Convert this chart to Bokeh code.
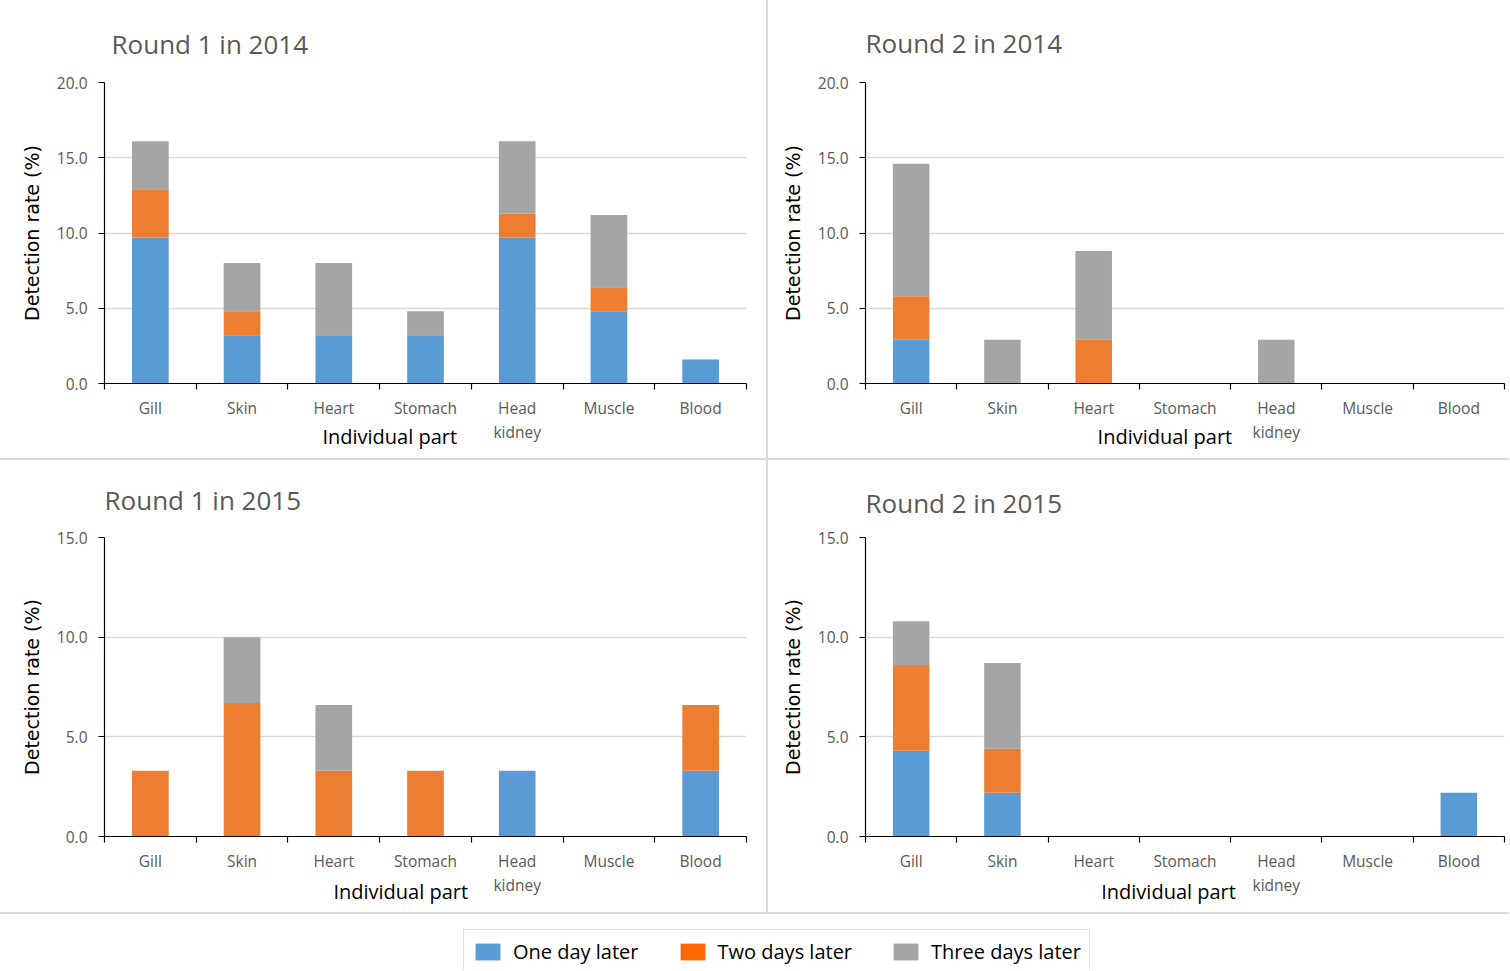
from bokeh.plotting import figure
from bokeh.models import (ColumnDataSource, Range1d, LinearAxis, FixedTicker,
                          PrintfTickFormatter, Legend, LegendItem)
from bokeh.layouts import column, row
from bokeh.embed import file_html
from bokeh.resources import INLINE

# ---------------- data ----------------
parts = ["Gill", "Skin", "Heart", "Stomach", "Head kidney", "Muscle", "Blood"]
series_names = ["One day later", "Two days later", "Three days later"]

r1_2014_one = [9.7, 3.2, 3.2, 3.2, 9.7, 4.8, 1.6]
r1_2014_two = [3.2, 1.6, 0.0, 0.0, 1.6, 1.6, 0.0]
r1_2014_three = [3.2, 3.2, 4.8, 1.6, 4.8, 4.8, 0.0]

r2_2014_one = [2.9, 0.0, 0.0, 0.0, 0.0, 0.0, 0.0]
r2_2014_two = [2.9, 0.0, 2.9, 0.0, 0.0, 0.0, 0.0]
r2_2014_three = [8.8, 2.9, 5.9, 0.0, 2.9, 0.0, 0.0]

r1_2015_one = [0.0, 0.0, 0.0, 0.0, 3.3, 0.0, 3.3]
r1_2015_two = [3.3, 6.7, 3.3, 3.3, 0.0, 0.0, 3.3]
r1_2015_three = [0.0, 3.3, 3.3, 0.0, 0.0, 0.0, 0.0]

r2_2015_one = [4.3, 2.2, 0.0, 0.0, 0.0, 0.0, 2.2]
r2_2015_two = [4.3, 2.2, 0.0, 0.0, 0.0, 0.0, 0.0]
r2_2015_three = [2.2, 4.3, 0.0, 0.0, 0.0, 0.0, 0.0]

y_ticks_2014 = [0, 5, 10, 15, 20]
y_ticks_2015 = [0, 5, 10, 15]

titles = ["Round 1 in 2014", "Round 2 in 2014", "Round 1 in 2015", "Round 2 in 2015"]
y_label = "Detection rate (%)"
x_label = "Individual part"

# ---------------- styles ----------------
bar_colors = ["#5B9BD5", "#ED7D31", "#A5A5A5"]
legend_colors = ["#5B9BD5", "#FF6600", "#A5A5A5"]
GRAY_TXT = "#595959"
FONT = "Open Sans"
SEP = "#d9d9d9"

idx = list(range(len(parts)))                      # category slots
edges = [i - 0.5 for i in range(len(parts) + 1)]   # boundaries between categories
tick_labels = {i: name.replace(" ", "\n") for i, name in zip(idx, parts)}


def panel(title, one, two, three, yticks, width, height, borders, title_offset,
          title_standoff, xlab_pos, css):
    ymax = yticks[-1]
    p = figure(x_range=Range1d(edges[0], edges[-1]), y_range=Range1d(0, ymax),
               width=width, height=height, output_backend="svg", toolbar_location=None,
               x_axis_location=None, y_axis_location="left",
               min_border_left=borders[0], min_border_right=borders[1],
               min_border_top=borders[2], min_border_bottom=borders[3],
               outline_line_color=None, styles=css)
    p.title.text = title
    p.title.text_font = FONT
    p.title.text_font_size = "26px"
    p.title.text_font_style = "normal"
    p.title.text_color = GRAY_TXT
    p.title.align = "left"
    p.title.offset = title_offset
    p.title.standoff = title_standoff

    src = ColumnDataSource(dict(x=idx, one=one, two=two, three=three))
    p.vbar_stack(["one", "two", "three"], x="x", width=0.4, source=src,
                 fill_color=bar_colors, line_color=None)

    # y axis
    ya = p.yaxis[0]
    ya.ticker = FixedTicker(ticks=yticks)
    ya.formatter = PrintfTickFormatter(format="%.1f")
    ya.major_label_text_font = FONT
    ya.major_label_text_font_size = "15.5px"
    ya.major_label_text_color = GRAY_TXT
    ya.axis_line_color = "black"
    ya.axis_line_width = 1.2
    ya.major_tick_line_color = "black"
    ya.major_tick_in = 0
    ya.major_tick_out = 6
    ya.minor_tick_line_color = None
    ya.major_label_standoff = 11
    ya.axis_label = y_label
    ya.axis_label_text_font = "DejaVu Sans"
    ya.axis_label_text_font_size = "19px"
    ya.axis_label_text_font_style = "normal"
    ya.axis_label_text_color = "black"
    ya.axis_label_standoff = 11

    p.ygrid.ticker = FixedTicker(ticks=yticks)
    p.ygrid.grid_line_color = SEP
    p.ygrid.grid_line_width = 1.4
    p.xgrid.visible = False

    # x axis: labels at category centres, tick marks (minor) between categories
    cat_axis = LinearAxis(ticker=FixedTicker(ticks=idx, minor_ticks=edges),
                          axis_line_color="black", axis_line_width=1.2,
                          major_tick_line_color=None, major_tick_out=0, major_tick_in=0,
                          minor_tick_line_color="black", minor_tick_line_width=1.2,
                          minor_tick_out=6, minor_tick_in=0,
                          major_label_standoff=7,
                          major_label_text_font=FONT,
                          major_label_text_font_size="15.5px",
                          major_label_text_color=GRAY_TXT,
                          major_label_text_line_height=1.1,
                          major_label_overrides=tick_labels)
    p.add_layout(cat_axis, "below")

    # x axis title, placed as a single tick label of a bare axis
    title_axis = LinearAxis(ticker=FixedTicker(ticks=[xlab_pos[0]]),
                            axis_line_color=None, major_tick_line_color=None,
                            minor_tick_line_color=None, major_tick_out=0, major_tick_in=0,
                            minor_tick_out=0, minor_tick_in=0,
                            major_label_standoff=xlab_pos[1],
                            major_label_text_font=FONT,
                            major_label_text_font_size="20px",
                            major_label_text_color="black",
                            major_label_overrides={xlab_pos[0]: x_label})
    p.add_layout(title_axis, "below")
    return p


p1 = panel(titles[0], r1_2014_one, r1_2014_two, r1_2014_three, y_ticks_2014,
           768, 460, (104, 22, 81, 77), 7, 42, (2.61, -23),
           {"border-right": f"2px solid {SEP}", "border-bottom": f"2px solid {SEP}"})
p2 = panel(titles[1], r2_2014_one, r2_2014_two, r2_2014_three, y_ticks_2014,
           741, 460, (97, 5, 81, 75), 0, 44, (2.78, -23),
           {"border-bottom": f"2px solid {SEP}"})
p3 = panel(titles[2], r1_2015_one, r1_2015_two, r1_2015_three, y_ticks_2015,
           768, 454, (104, 22, 77, 78), 0, 39, (2.73, -21),
           {"border-right": f"2px solid {SEP}", "border-bottom": f"2px solid {SEP}"})
p4 = panel(titles[3], r2_2015_one, r2_2015_two, r2_2015_three, y_ticks_2015,
           741, 454, (97, 5, 77, 77), 0, 34, (2.82, -21),
           {"border-bottom": f"2px solid {SEP}"})

# ---------------- legend ----------------
lf = figure(width=1509, height=56, x_range=Range1d(0, 1), y_range=Range1d(0, 1),
            output_backend="svg", toolbar_location=None, min_border=0,
            x_axis_location=None, y_axis_location=None, outline_line_color=None)
lf.grid.visible = False
offscreen = ColumnDataSource(dict(x=[-5], top=[0]))
rends = [lf.vbar(x="x", top="top", width=0.5, source=offscreen, fill_color=c, line_color=None)
         for c in legend_colors]
legend = Legend(items=[LegendItem(label=n, renderers=[r]) for n, r in zip(series_names, rends)],
                orientation="horizontal", location=(463, -4),
                glyph_width=31, glyph_height=21, label_standoff=10, spacing=38,
                padding=8, margin=0, label_text_font=FONT, label_text_font_size="20px",
                label_text_color="black", border_line_color="#bfbfbf", border_line_width=1.5,
                background_fill_color="white", background_fill_alpha=1.0)
lf.add_layout(legend, "center")

layout = column(row(p1, p2), row(p3, p4), lf)
open("out.html", "w").write(file_html(layout, INLINE))
